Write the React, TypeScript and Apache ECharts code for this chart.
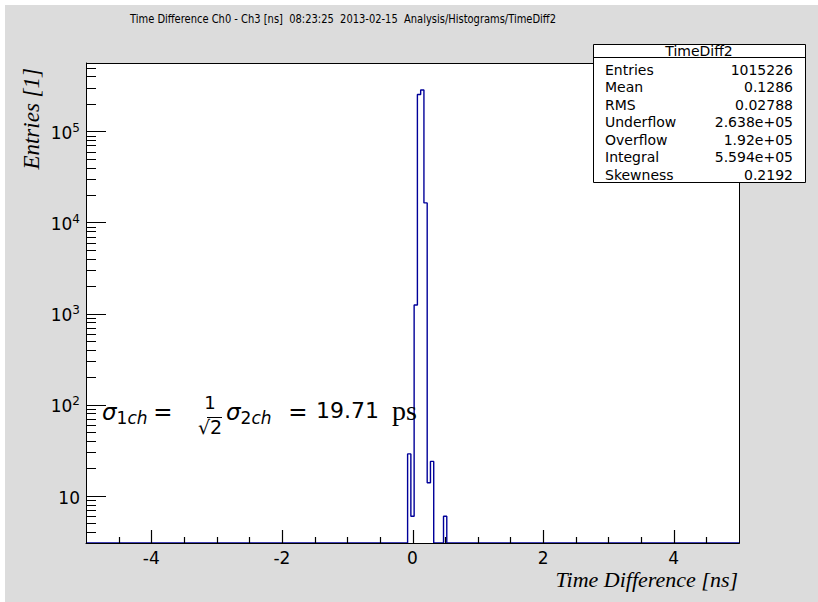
import React, { useEffect, useRef } from 'react';
import * as echarts from 'echarts';

// ---- data ----
const binCenters = [-0.05, 0, 0.05, 0.1, 0.15, 0.2, 0.25, 0.3, 0.35, 0.4, 0.45, 0.5];
const binCounts = [29, 6, 1250, 255000, 286000, 16500, 14, 24, 0, 0, 0, 6];
const binWidth = 0.05;
const xRange = [-5, 5];
const yRange = [3.05, 566000];
const xLabelTicks = [-4, -2, 0, 2, 4];
const yMajorTicks = [10, 100, 1000, 10000, 100000];
const statsTitle = 'TimeDiff2';
const statsNames = ['Entries', 'Mean', 'RMS', 'Underflow', 'Overflow', 'Integral', 'Skewness'];
const statsValues = ['1015226', '0.1286', '0.02788', '2.638e+05', '1.92e+05', '5.594e+05', '0.2192'];
const titleText = 'Time Difference Ch0 - Ch3 [ns]  08:23:25  2013-02-15  Analysis/Histograms/TimeDiff2';
const xTitle = 'Time Difference [ns]';
const yTitle = 'Entries [1]';

const SANS = 'DejaVu Sans';
const SERIF = 'Liberation Serif';
const G = { left: 86, top: 63, right: 79, bottom: 59 };
const W = 818;
const H = 602;

function minorTicks(): number[] {
  const out: number[] = [];
  for (let e = 0; e <= 5; e++) {
    for (let m = 2; m <= 9; m++) {
      const v = m * Math.pow(10, e);
      if (v > yRange[0] && v < yRange[1]) out.push(v);
    }
  }
  return out;
}

function xTickValues(): number[] {
  const out: number[] = [];
  for (let k = xRange[0] * 2 + 1; k < xRange[1] * 2; k++) out.push(k / 2);
  return out;
}

function outline(): number[][] {
  const base = yRange[0];
  const pts: number[][] = [[xRange[0], base]];
  pts.push([binCenters[0] - binWidth / 2, base]);
  binCenters.forEach((c, i) => {
    const v = binCounts[i] > 0 ? binCounts[i] : base;
    pts.push([c - binWidth / 2, v], [c + binWidth / 2, v]);
  });
  pts.push([binCenters[binCenters.length - 1] + binWidth / 2, base]);
  pts.push([xRange[1], base]);
  return pts;
}

export default function App() {
  const ref = useRef<HTMLDivElement>(null);
  useEffect(() => {
    const chart = echarts.init(ref.current!, null, { renderer: 'svg' });
    const tickStyle = { color: '#000', width: 1 };
    const statsChildren: any[] = [
      { type: 'rect', z: 20, shape: { x: 593.5, y: 44.5, width: 212, height: 138 }, style: { fill: '#fff', stroke: '#000', lineWidth: 1 } },
      { type: 'line', z: 21, shape: { x1: 593.5, y1: 57.5, x2: 805.5, y2: 57.5 }, style: { stroke: '#000', lineWidth: 1 } },
      { type: 'text', z: 21, x: 699, y: 51, style: { text: statsTitle, align: 'center', verticalAlign: 'middle', fontFamily: SANS, fontSize: 14, fill: '#000' } },
    ];
    statsNames.forEach((n, i) => {
      const y = 69.5 + 17.5 * i;
      statsChildren.push({ type: 'text', z: 21, x: 605, y, style: { text: n, align: 'left', verticalAlign: 'middle', fontFamily: SANS, fontSize: 14, fill: '#000' } });
      statsChildren.push({ type: 'text', z: 21, x: 793, y, style: { text: statsValues[i], align: 'right', verticalAlign: 'middle', fontFamily: SANS, fontSize: 14, fill: '#000' } });
    });

    const mathRich = {
      m: { fontFamily: SANS, fontSize: 23, lineHeight: 28, verticalAlign: 'middle', fontStyle: 'italic', fill: '#000' },
      s: { fontFamily: SANS, fontSize: 17, lineHeight: 17, verticalAlign: 'bottom', fill: '#000' },
      si: { fontFamily: SANS, fontSize: 17, lineHeight: 17, verticalAlign: 'bottom', fontStyle: 'italic', fill: '#000' },
    };
    const plain = (t: string, x: number, size: number, family: string, align = 'left', y = 412) => ({
      type: 'text', z: 7, x, y,
      style: { text: t, fontFamily: family, fontSize: size, fill: '#000', align, verticalAlign: 'middle' },
    });
    const pw = W - G.left - G.right;
    const ph = H - G.top - G.bottom;

    const baseGraphic: any[] = [
      { type: 'rect', z: -100, shape: { x: 5, y: 5, width: W - 5, height: H - 5 }, style: { fill: '#dcdcdc' }, silent: true },
      { type: 'rect', z: -50, shape: { x: G.left, y: G.top, width: pw, height: ph }, style: { fill: '#fff' }, silent: true },
      { type: 'rect', z: 8, shape: { x: G.left + 0.5, y: G.top + 0.5, width: pw, height: ph }, style: { fill: 'none', stroke: '#000', lineWidth: 1 }, silent: true },
      { type: 'text', x: 130, y: 19, scaleX: 0.92, style: { text: titleText, fontFamily: 'DejaVu Sans Condensed', fontSize: 12, fill: '#000', verticalAlign: 'middle' } },
      { type: 'text', x: 31, y: 68, rotation: Math.PI / 2, style: { text: yTitle, fontFamily: SERIF, fontStyle: 'italic', fontSize: 23, fill: '#000', align: 'right', verticalAlign: 'middle' } },
      { type: 'text', x: 738, y: 579, style: { text: xTitle, fontFamily: SERIF, fontStyle: 'italic', fontSize: 22, fill: '#000', align: 'right', verticalAlign: 'middle' } },
      { type: 'group', z: 20, children: statsChildren },
      // annotation: sigma_1ch = 1/sqrt(2) sigma_2ch = 19.71 ps
      { type: 'text', z: 7, x: 102, y: 412, style: { text: '{m|σ}{s|1}{si|ch}', rich: mathRich, verticalAlign: 'middle' } },
      plain('=', 163, 23, SANS, 'center'),
      plain('1', 210, 18, SANS, 'center', 402),
      plain('√2', 210, 19, SANS, 'center', 427),
      { type: 'line', z: 7, shape: { x1: 207, y1: 417.5, x2: 222, y2: 417.5 }, style: { stroke: '#000', lineWidth: 1 } },
      { type: 'text', z: 7, x: 226, y: 412, style: { text: '{m|σ}{s|2}{si|ch}', rich: mathRich, verticalAlign: 'middle' } },
      plain('=', 298, 23, SANS, 'center'),
      plain('19.71', 316, 22, SANS, 'left', 410),
      plain('ps', 392, 28, SERIF, 'left', 410),
    ];

    const option: any = {
      animation: false,
      backgroundColor: '#fff',
      grid: { left: G.left, top: G.top, right: G.right, bottom: G.bottom, show: false },
      xAxis: [
        {
          type: 'value', min: xRange[0], max: xRange[1], position: 'bottom', z: 5,
          axisLine: { show: true, onZero: false, lineStyle: tickStyle },
          axisTick: { show: false },
          axisLabel: { show: true, customValues: xLabelTicks, fontFamily: SANS, fontSize: 17, color: '#000', margin: 6 },
          splitLine: { show: false },
        },
      ],
      yAxis: [
        {
          type: 'log', logBase: 10, min: yRange[0], max: yRange[1], position: 'left', z: 5,
          axisLine: { show: true, onZero: false, lineStyle: tickStyle },
          axisTick: { show: true, inside: true, length: 20, customValues: yMajorTicks, lineStyle: tickStyle },
          axisLabel: {
            show: true, customValues: yMajorTicks, margin: 6,
            formatter: (v: number) => {
              const e = Math.round(Math.log10(v));
              return e === 1 ? '{b|10}' : '{b|10}{s|' + e + '}';
            },
            rich: {
              b: { fontFamily: SANS, fontSize: 17, lineHeight: 20, verticalAlign: 'bottom', color: '#000' },
              s: { fontFamily: SANS, fontSize: 12, lineHeight: 10, verticalAlign: 'top', color: '#000' },
            },
          },
          splitLine: { show: false },
        },
        {
          type: 'log', logBase: 10, min: yRange[0], max: yRange[1], position: 'left', z: 5,
          axisLine: { show: false, onZero: false },
          axisTick: { show: true, inside: true, length: 10, customValues: minorTicks(), lineStyle: tickStyle },
          axisLabel: { show: false }, splitLine: { show: false },
        },
      ],
      series: [
        {
          type: 'line', xAxisIndex: 0, yAxisIndex: 0, data: outline(), showSymbol: false, symbol: 'none',
          lineStyle: { color: '#000099', width: 1.4 }, clip: true, z: 6,
        },
      ],
      graphic: baseGraphic,
    };
    chart.setOption(option);

    // x-axis tick marks, placed through the chart's own scales (grid finder)
    const tickEls: any[] = [];
    xTickValues().forEach((v) => {
      let pt: any = null;
      try {
        pt = chart.convertToPixel({ gridIndex: 0 } as any, [v, yRange[0]]);
      } catch (e) {
        pt = null;
      }
      let px: number;
      let py: number;
      if (Array.isArray(pt) && isFinite(pt[0]) && isFinite(pt[1])) {
        px = pt[0];
        py = pt[1];
      } else {
        px = G.left + ((v - xRange[0]) / (xRange[1] - xRange[0])) * pw;
        py = H - G.bottom;
      }
      const len = xLabelTicks.indexOf(v) >= 0 ? 13 : 6;
      const x = Math.round(px) + 0.5;
      tickEls.push({ type: 'line', z: 30, silent: true, shape: { x1: x, y1: py, x2: x, y2: py - len }, style: { stroke: '#000', lineWidth: 1.2 } });
    });
    chart.setOption({ graphic: [...baseGraphic, ...tickEls] });

    return () => chart.dispose();
  }, []);
  return <div ref={ref} style={{ position: 'absolute', left: 0, top: 0, width: W, height: H }} />;
}
